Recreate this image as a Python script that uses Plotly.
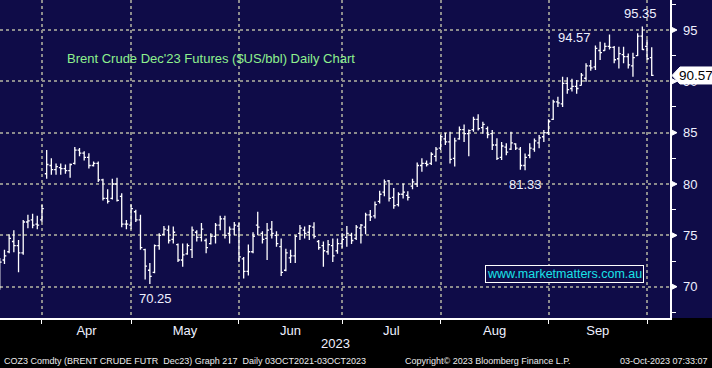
import numpy as np
import pandas as pd
import plotly.graph_objects as go

# ---------------- data ----------------
start_date = "2023-03-20"
end_date = "2023-10-02"
holidays = ["2023-04-07"]  # Good Friday

opens = [70.5, 72.6, 73.4, 74.4, 74.0, 73.3, 76.3, 76.5, 76.1, 76.5,
         81.0, 81.8, 81.4, 81.6, 81.5, 81.3, 82.0, 83.3, 83.0, 82.6,
         81.8, 82.0, 80.4, 78.6, 78.6, 80.0, 78.8, 76.1, 76.0, 77.3,
         76.5, 73.6, 71.6, 71.4, 74.0, 75.1, 75.5, 74.6, 74.1, 72.6,
         73.2, 73.6, 75.3, 74.8, 74.5, 74.2, 74.9, 76.0, 76.6, 75.2,
         75.6, 75.9, 72.7, 71.5, 73.4, 76.0, 75.2, 74.7, 75.6, 75.0,
         73.9, 71.6, 72.8, 73.0, 75.2, 75.5, 75.3, 75.8, 74.4, 74.0,
         73.4, 74.0, 73.5, 74.2, 74.8, 75.0, 74.7, 75.7, 75.8, 77.0,
         76.9, 78.3, 79.2, 80.3, 78.7, 78.0, 79.0, 78.9, 79.8, 80.0,
         81.8, 82.0, 82.0, 82.7, 83.5, 84.4, 84.1, 82.5, 84.4, 85.3,
         84.9, 85.3, 86.3, 85.5, 85.4, 84.9, 83.8, 82.6, 83.6, 83.4,
         83.9, 83.4, 81.8, 82.8, 83.4, 84.0, 84.6, 85.0, 86.3, 88.0,
         87.8, 89.8, 89.3, 89.5, 89.6, 90.3, 91.5, 91.4, 93.0, 93.0,
         93.4, 93.3, 92.2, 92.6, 92.4, 91.5, 92.5, 94.4, 93.4, 92.3]
highs = [72.8, 73.6, 75.1, 75.5, 74.55, 76.5, 77.0, 77.1, 76.9, 77.96,
         83.3, 82.5, 82.0, 82.0, 81.9, 82.0, 83.6, 83.5, 83.2, 83.0,
         82.2, 82.2, 80.5, 79.5, 80.5, 80.6, 79.1, 76.5, 78.0, 77.5,
         77.0, 73.7, 72.3, 74.1, 75.2, 75.9, 75.95, 75.85, 74.2, 74.2,
         74.2, 75.85, 75.5, 76.2, 74.7, 75.2, 76.2, 76.9, 76.9, 75.85,
         76.3, 76.2, 72.9, 74.1, 75.3, 77.3, 75.4, 76.2, 76.4, 75.4,
         74.7, 73.7, 73.6, 75.0, 76.0, 75.85, 76.0, 76.27, 74.55, 74.4,
         74.55, 74.7, 74.7, 75.2, 75.9, 75.26, 76.0, 76.1, 77.2, 77.46,
         78.3, 79.35, 80.45, 80.4, 79.6, 79.2, 80.06, 79.3, 80.5, 82.1,
         82.5, 82.3, 83.1, 83.6, 84.8, 85.0, 85.1, 84.5, 85.6, 85.8,
         85.3, 86.56, 86.8, 86.07, 85.6, 85.26, 84.45, 84.1, 83.96, 85.1,
         83.96, 83.6, 82.98, 83.96, 84.44, 84.77, 85.26, 86.3, 88.2, 88.5,
         90.45, 90.4, 90.26, 90.13, 90.8, 91.75, 92.07, 93.5, 93.86, 93.76,
         94.57, 93.44, 93.37, 93.37, 92.72, 92.79, 94.67, 95.35, 94.09, 93.31]
lows = [69.7, 72.2, 73.25, 73.35, 71.4, 73.1, 75.7, 75.7, 75.6, 76.3,
        80.5, 80.9, 80.9, 80.9, 81.0, 80.6, 81.9, 82.7, 82.3, 81.5,
        81.7, 80.2, 78.4, 78.1, 78.5, 78.3, 75.8, 75.6, 75.6, 76.3,
        73.6, 70.7, 70.25, 71.3, 73.6, 75.0, 74.2, 74.2, 72.4, 71.95,
        73.1, 72.8, 74.4, 74.4, 73.25, 74.1, 74.2, 75.5, 74.7, 74.2,
        75.0, 72.4, 70.8, 71.1, 73.25, 75.0, 74.2, 72.6, 74.7, 73.9,
        71.05, 71.5, 72.3, 72.3, 74.55, 74.7, 74.55, 74.7, 73.6, 71.95,
        73.1, 72.4, 73.2, 73.8, 73.9, 74.15, 74.55, 74.2, 75.1, 76.4,
        76.65, 78.1, 78.8, 78.3, 77.6, 77.8, 78.6, 78.4, 79.5, 79.7,
        81.2, 81.7, 81.85, 82.2, 83.3, 83.8, 82.0, 81.7, 84.3, 84.1,
        82.7, 85.1, 85.2, 84.9, 84.45, 83.3, 82.34, 82.34, 82.8, 83.3,
        83.3, 81.4, 81.33, 82.5, 83.15, 83.47, 84.1, 84.77, 86.23, 87.5,
        87.5, 88.8, 89.0, 88.8, 89.6, 89.96, 91.03, 91.1, 92.07, 92.98,
        93.1, 91.75, 91.26, 91.75, 91.26, 90.45, 92.46, 93.05, 92.07, 90.52]
closes = [72.4, 73.0, 74.7, 74.0, 73.3, 76.3, 76.4, 76.0, 76.0, 77.6,
          81.9, 81.4, 81.7, 81.5, 81.3, 81.9, 83.3, 83.0, 82.6, 81.8,
          82.0, 80.4, 78.6, 78.3, 80.0, 78.4, 76.1, 76.1, 77.6, 76.5,
          73.8, 72.0, 71.0, 74.0, 75.0, 75.6, 74.5, 75.3, 72.6, 73.1,
          74.0, 75.5, 74.8, 75.6, 73.8, 74.9, 76.0, 76.6, 75.0, 75.6,
          76.0, 72.9, 71.5, 73.4, 74.9, 75.8, 74.6, 75.5, 75.2, 74.2,
          71.4, 73.3, 73.0, 74.9, 75.7, 75.2, 75.9, 74.9, 73.8, 73.5,
          74.1, 73.0, 74.2, 74.6, 75.2, 74.5, 75.8, 76.0, 77.0, 76.8,
          78.0, 79.0, 80.2, 78.6, 77.9, 79.0, 79.2, 78.7, 80.2, 81.8,
          82.0, 81.9, 82.9, 83.4, 84.6, 84.1, 82.4, 84.2, 85.3, 84.9,
          85.2, 86.3, 85.4, 85.8, 84.8, 83.8, 82.5, 83.7, 83.1, 84.0,
          83.5, 81.8, 82.6, 83.5, 84.2, 84.5, 85.0, 86.1, 88.0, 87.9,
          89.8, 89.2, 89.5, 89.3, 90.6, 91.5, 91.3, 93.2, 92.8, 93.4,
          93.3, 92.1, 92.7, 92.4, 91.6, 92.3, 94.4, 93.1, 92.2, 90.57]

y_ticks = [70, 75, 80, 85, 90, 95]
month_names = ["Apr", "May", "Jun", "Jul", "Aug", "Sep"]

title_text = "Brent Crude Dec'23 Futures ($US/bbl) Daily Chart"
watermark = "www.marketmatters.com.au"
footer_left = "COZ3 Comdty (BRENT CRUDE FUTR  Dec23) Graph 217  Daily 03OCT2021-03OCT2023"
footer_mid = "Copyright\u00a9 2023 Bloomberg Finance L.P."
footer_right = "03-Oct-2023 07:33:07"
year_label = "2023"

# ---------------- derived ----------------
dates = pd.bdate_range(start_date, end_date).drop(pd.to_datetime(holidays))
idx = np.arange(len(dates))
months = dates.to_period("M")
first_of_month = [int(np.where(months == m)[0][0]) for m in months.unique()]
boundaries = [f - 1 for f in first_of_month if f > 0]          # Apr..Oct
centers = [(boundaries[k] + boundaries[k + 1]) / 2 for k in range(len(boundaries) - 1)]

NAVY = "#0f0c48"
GRID = "#8c8c8c"
FONT = "Liberation Sans, Arial, sans-serif"

fig = go.Figure()
fig.add_trace(go.Ohlc(
    x=idx, open=opens, high=highs, low=lows, close=closes,
    increasing=dict(line=dict(color="white", width=1.3)),
    decreasing=dict(line=dict(color="white", width=1.3)),
    tickwidth=0.4, hoverinfo="skip", showlegend=False,
))

fig.update_layout(
    width=712, height=368,
    margin=dict(l=0, r=42, t=0, b=50, pad=0),
    paper_bgcolor="#000000", plot_bgcolor=NAVY,
    showlegend=False, hovermode=False,
    font=dict(family=FONT, color="white"),
    xaxis=dict(
        range=[0.05, 142.9], rangeslider=dict(visible=False),
        tickmode="array", tickvals=centers, ticktext=month_names,
        ticks="", showgrid=False, zeroline=False,
        showline=True, linecolor="white", linewidth=1.5,
        tickfont=dict(size=13, color="#eef0ff", family=FONT),
        minor=dict(tickmode="array", tickvals=boundaries, ticks="outside",
                   ticklen=4, tickcolor="white", tickwidth=1,
                   showgrid=True, gridcolor=GRID, griddash="dot", gridwidth=2),
    ),
    yaxis=dict(
        range=[66.95, 97.92], side="right",
        tickmode="array", tickvals=y_ticks, ticktext=[str(v) for v in y_ticks],
        ticks="", showgrid=True, gridcolor=GRID, griddash="dot", gridwidth=2,
        zeroline=False, showline=True, linecolor="white", linewidth=1.5,
        tickfont=dict(size=13, color="#eef0ff", family=FONT),
        ticklabelstandoff=9,
        minor=dict(tick0=0, dtick=2.5, ticks="outside", ticklen=4,
                   tickcolor="white", tickwidth=1, showgrid=False),
    ),
)

shapes = []
# navy background of the right price-axis strip
shapes.append(dict(type="rect", xref="paper", yref="paper", x0=1, x1=1.07,
                   y0=0, y1=1, fillcolor=NAVY, line=dict(width=0), layer="below"))
# triangle markers for major ticks
for v in y_ticks:
    shapes.append(dict(type="path", xref="paper", yref="y", xsizemode="pixel",
                       ysizemode="pixel", xanchor=1, yanchor=v,
                       path="M 1,3 L 7,0 L 1,-3 Z", fillcolor="white",
                       line=dict(color="white", width=1)))
# last-price flag
shapes.append(dict(type="path", xref="paper", yref="y", xsizemode="pixel",
                   ysizemode="pixel", xanchor=1, yanchor=closes[-1],
                   path="M 2,0 L 10,8.5 L 46,8.5 L 46,-8.5 L 10,-8.5 Z",
                   fillcolor="white", line=dict(color="white", width=1),
                   layer="above"))
fig.update_layout(shapes=shapes)

ann = []
LBL = "#eef0ff"
# last price text
ann.append(dict(xref="paper", yref="y", x=1, y=closes[-1], xanchor="left",
                yanchor="middle", xshift=7, text=f"{closes[-1]:.2f}",
                showarrow=False, font=dict(size=13.5, color="black", family=FONT)))
# extreme labels
i_hi = int(np.argmax(highs))
ann.append(dict(x=i_hi, y=highs[i_hi], xref="x", yref="y", text=f"{highs[i_hi]:.2f}",
                showarrow=False, yanchor="bottom", xshift=-2, yshift=3,
                font=dict(size=13, color=LBL, family=FONT)))
i_hi2 = highs.index(94.57)
ann.append(dict(x=i_hi2, y=highs[i_hi2], xref="x", yref="y", text=f"{highs[i_hi2]:.2f}",
                showarrow=False, xanchor="right", yanchor="middle", xshift=-17, yshift=-3,
                font=dict(size=13, color=LBL, family=FONT)))
i_lo2 = lows.index(81.33)
ann.append(dict(x=i_lo2, y=lows[i_lo2], xref="x", yref="y", text=f"{lows[i_lo2]:.2f}",
                showarrow=False, yanchor="top", yshift=-5,
                font=dict(size=13, color=LBL, family=FONT)))
i_lo = int(np.argmin(lows[5:])) + 5
ann.append(dict(x=i_lo, y=lows[i_lo], xref="x", yref="y", text=f"{lows[i_lo]:.2f}",
                showarrow=False, yanchor="top", xshift=6, yshift=-5,
                font=dict(size=13, color=LBL, family=FONT)))
# title
ann.append(dict(xref="paper", yref="paper", x=65 / 670, y=(318 - 59) / 318,
                xanchor="left", yanchor="middle", text=title_text, showarrow=False,
                font=dict(size=13, color="#8ef08e", family=FONT)))
# watermark
ann.append(dict(xref="paper", yref="paper", x=564 / 670, y=(318 - 274) / 318,
                xanchor="center", yanchor="middle", text=watermark, showarrow=False,
                bgcolor=NAVY, bordercolor="white", borderwidth=1, borderpad=1,
                font=dict(size=12.5, color="#19e3e8", family=FONT)))
# year
ann.append(dict(xref="paper", yref="paper", x=335 / 670, y=(318 - 343) / 318,
                xanchor="center", yanchor="middle", text=year_label, showarrow=False,
                font=dict(size=13, color="#eef0ff", family=FONT)))
# footer
fy = (318 - 361) / 318
ann.append(dict(xref="paper", yref="paper", x=2 / 670, y=fy, xanchor="left",
                yanchor="middle", text=footer_left, showarrow=False,
                font=dict(size=9, color="#ececec", family=FONT)))
ann.append(dict(xref="paper", yref="paper", x=403 / 670, y=fy, xanchor="left",
                yanchor="middle", text=footer_mid, showarrow=False,
                font=dict(size=9, color="#ececec", family=FONT)))
ann.append(dict(xref="paper", yref="paper", x=710 / 670, y=fy, xanchor="right",
                yanchor="middle", text=footer_right, showarrow=False,
                font=dict(size=9, color="#ececec", family=FONT)))
fig.update_layout(annotations=ann)

fig.write_html("out.html", config={"displayModeBar": False, "staticPlot": True},
               post_script="document.body.style.margin='0';document.body.style.overflow='hidden';")
